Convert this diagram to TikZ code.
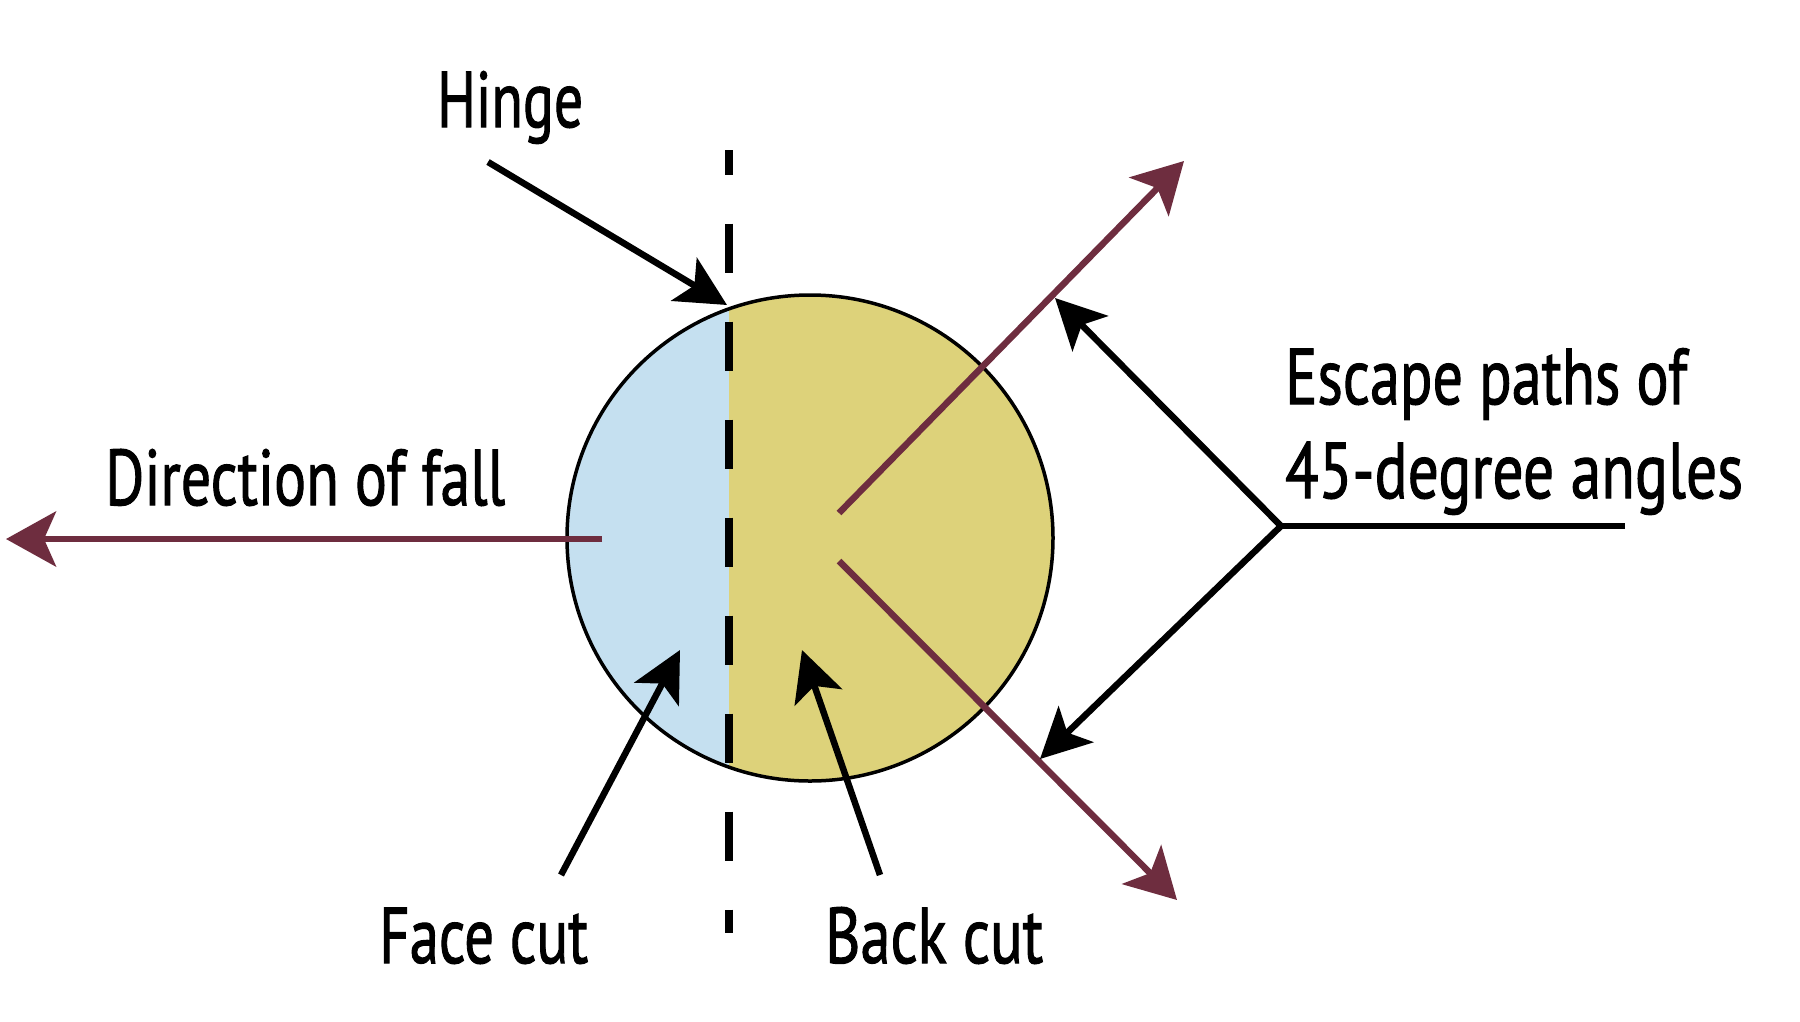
\documentclass[tikz,border=0pt]{standalone}
\usepackage{fontspec}
\usepackage{graphicx}
\usetikzlibrary{arrows.meta}
\newfontfamily\lab{PT Sans}[UprightFeatures={FakeBold=1.5}]
\definecolor{maroon}{RGB}{110,45,63}
\definecolor{faceblue}{RGB}{197,224,240}
\definecolor{backyellow}{RGB}{221,210,122}
\newcommand{\fitw}[2]{\resizebox{#1}{\height}{#2}}
\tikzset{
  lbl/.style={anchor=base west, inner sep=0pt, font=\lab\fontsize{79}{86}\selectfont},
  blackarrow/.style={draw=black, line width=6.5pt, -{Stealth[length=50pt, width=50pt, inset=12pt]}},
  fallarrow/.style={draw=maroon, line width=6.5pt, -{Stealth[length=50pt, width=55pt, inset=12pt]}},
  plainline/.style={draw=black, line width=6.5pt},
  dashline/.style={draw=black, line width=8pt, dash pattern=on 49pt off 49pt, dash phase=24.5pt},
}
\begin{document}
\begin{tikzpicture}[x=1pt, y=-1pt]
\useasboundingbox (0,0) rectangle (1800,1021);
% tree cross-section
\coordinate (c) at (810,538);
\begin{scope}
  \clip (c) circle (243);
  \fill[faceblue] (560,285) rectangle (729,795);
  \fill[backyellow] (729,285) rectangle (1065,795);
\end{scope}
\node[circle, draw=black, line width=3.5pt, minimum size=486pt, inner sep=0pt] (tree) at (c) {};
% hinge dashed line
\coordinate (d1) at (729,150);
\coordinate (d2) at (729,933);
\draw[dashline] (d1) -- (d2);
% labels
\node[lbl] (hinge) at (437,127) {\fitw{146pt}{Hinge}};
\node[lbl] (fall) at (105,505) {\fitw{400pt}{Direction of fall}};
\node[lbl] (esc1) at (1285,404) {\fitw{402pt}{Escape paths of}};
\node[lbl] (esc2) at (1285,498) {\fitw{458pt}{45-degree angles}};
\node[lbl] (face) at (379,963) {\fitw{209pt}{Face cut}};
\node[lbl] (back) at (825,963) {\fitw{218pt}{Back cut}};
% direction of fall
\coordinate (f0) at (602,539);
\coordinate (f1) at (6,539);
\draw[fallarrow] (f0) -- (f1);
% escape paths
\coordinate (e0) at (839,513);
\coordinate (e1) at (1184,161);
\coordinate (e2) at (839,561);
\coordinate (e3) at (1177,900);
\draw[fallarrow] (e0) -- (e1);
\draw[fallarrow] (e2) -- (e3);
% hinge arrow
\coordinate (h0) at (488,162);
\coordinate (h1) at (727,305);
\draw[blackarrow] (h0) -- (h1);
% face / back cut arrows
\coordinate (fc0) at (561,875);
\coordinate (fc1) at (680,650);
\coordinate (bc0) at (880,875);
\coordinate (bc1) at (802,650);
\draw[blackarrow] (fc0) -- (fc1);
\draw[blackarrow] (bc0) -- (bc1);
% escape label pointers
\coordinate (j) at (1281,526);
\coordinate (jr) at (1625,526);
\coordinate (ju) at (1055,298);
\coordinate (jd) at (1040,759);
\draw[plainline] (jr) -- (j);
\draw[blackarrow] (j) -- (ju);
\draw[blackarrow] (j) -- (jd);
\end{tikzpicture}
\end{document}
